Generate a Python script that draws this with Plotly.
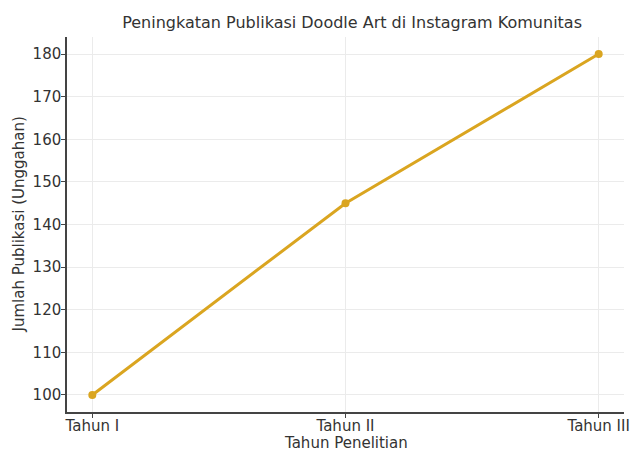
import plotly.graph_objects as go

categories = ["Tahun I", "Tahun II", "Tahun III"]
values = [100, 145, 180]
y_ticks = [100, 110, 120, 130, 140, 150, 160, 170, 180]

fig = go.Figure()
fig.add_trace(go.Scatter(
    x=list(range(len(categories))), y=values, mode="lines+markers",
    line=dict(color="#DAA520", width=3),
    marker=dict(color="#DAA520", size=8),
))
font = "DejaVu Sans"
txt = "#333333"
W, H = 631, 452
fig.update_layout(
    width=W, height=H,
    margin=dict(l=67, r=7, t=37, b=40),
    paper_bgcolor="white", plot_bgcolor="white",
    showlegend=False,
    font=dict(family=font, size=15, color=txt),
    title=dict(text="Peningkatan Publikasi Doodle Art di Instagram Komunitas",
               x=0.558, xanchor="center", y=1 - 22 / H, yanchor="middle",
               font=dict(size=16, color=txt)),
    xaxis=dict(range=[-0.1, 2.1], tickmode="array",
               tickvals=list(range(len(categories))), ticktext=categories,
               showgrid=True, gridcolor="#ebebeb", gridwidth=1,
               showline=True, linecolor="#444444", linewidth=1.5,
               ticks="outside", ticklen=4, tickcolor="#444444",
               zeroline=False, automargin=False, ticklabelstandoff=-5,
               tickfont=dict(size=15, color=txt)),
    yaxis=dict(range=[96, 184], tickmode="array", tickvals=y_ticks,
               showgrid=True, gridcolor="#ebebeb", gridwidth=1,
               showline=True, linecolor="#444444", linewidth=1.5,
               ticks="outside", ticklen=4, tickcolor="#444444",
               zeroline=False, automargin=False, ticklabelstandoff=-3,
               tickfont=dict(size=15, color=txt)),
    annotations=[
        dict(text="Tahun Penelitian", xref="paper", yref="paper",
             x=0.5, y=0, xanchor="center", yanchor="middle", yshift=-31,
             showarrow=False, font=dict(size=15, color=txt)),
        dict(text="Jumlah Publikasi (Unggahan)", xref="paper", yref="paper",
             x=0, y=0.5, xanchor="center", yanchor="middle", xshift=-49,
             textangle=-90, showarrow=False, font=dict(size=15, color=txt)),
    ],
)
fig.write_html("out.html", config={"displayModeBar": False},
               post_script="document.body.style.margin='0';")
